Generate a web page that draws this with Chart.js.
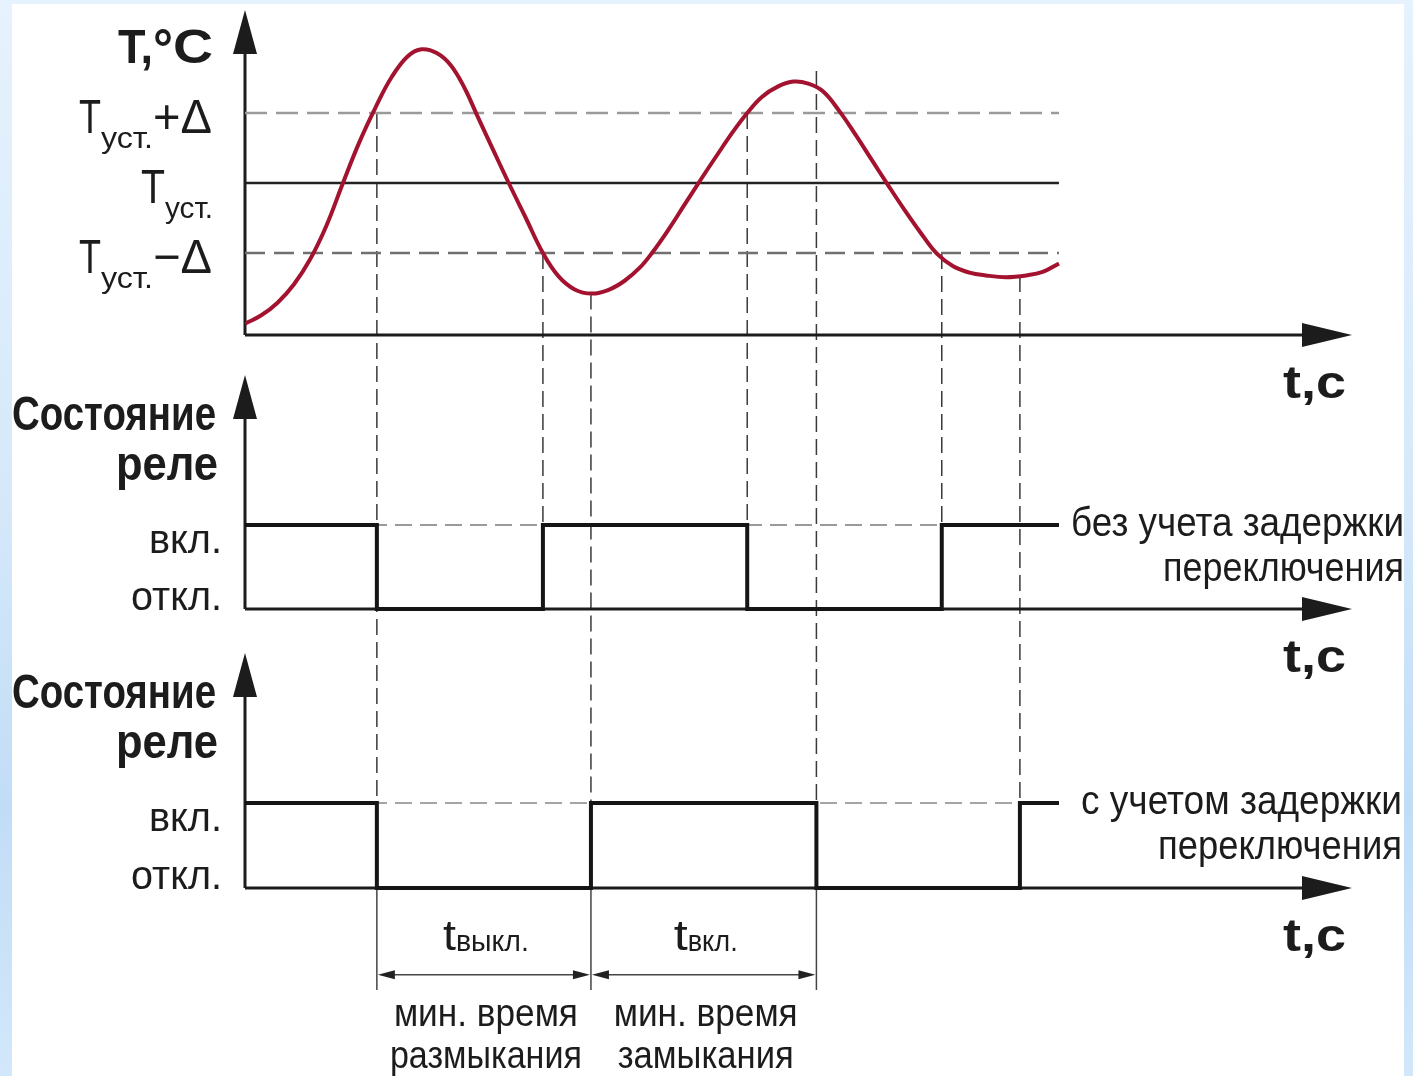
<!DOCTYPE html>
<html lang="ru">
<head>
<meta charset="utf-8">
<title>Состояние реле</title>
<script src="https://cdn.jsdelivr.net/npm/chart.js@4.4.1/dist/chart.umd.min.js"></script>
<style>
  html, body { margin: 0; width: 1413px; height: 1076px; overflow: hidden;
    background: linear-gradient(#e6f2fd, #d6e9fa 45%, #c1ddf6 75%, #d2e7fa); }
  #sheet { position: absolute; left: 12px; top: 4px; width: 1392px; height: 1072px; background: #fff; }
  #wrap { position: absolute; left: 0; top: 0; width: 1413px; height: 1076px; }
</style>
</head>
<body>
<div id="sheet"></div>
<div id="wrap"><canvas id="relayChart"></canvas></div>
<script>
// temperature curve (T in units of Δ around Tуст.)
const tempTimes  = [0, 2, 4, 6, 8, 10, 12, 14, 16, 18, 20,
  21.7, 23.5, 25.3, 27, 28.5, 30.5, 32.4, 34.5, 36.6,
  38.5, 40.5, 42.6, 44.6, 46.6, 48.5, 50,
  52, 54, 56, 58, 60, 61.7,
  63.5, 65.5, 67.4, 69.2, 71, 73,
  75, 77, 79, 81, 83, 85,
  87, 89, 91, 93.5, 96, 98, 100];
const tempValues = [-2.01, -1.89, -1.71, -1.45, -1.09, -0.61, -0.01, 0.57, 1.07, 1.51, 1.81,
  1.91, 1.86, 1.68, 1.35, 0.97, 0.47, 0, -0.5, -1.0,
  -1.33, -1.52, -1.58, -1.53, -1.40, -1.21, -1.0,
  -0.67, -0.31, 0.05, 0.40, 0.74, 1.0,
  1.23, 1.38, 1.45, 1.42, 1.31, 1.03,
  0.69, 0.33, -0.03, -0.38, -0.71, -1.01,
  -1.19, -1.28, -1.32, -1.345, -1.32, -1.27, -1.15];

// set point levels
const setLevels = [1, 0, -1];
const setLabels = [["T", "уст.", "+Δ"], ["T", "уст.", ""], ["T", "уст.", "−Δ"]];
const LINE_END = 100;

// relay without switching delay
const relay1Times  = [0, 16.2, 36.6, 61.7, 85.6, 100];
const relay1States = [1, 0, 1, 0, 1, 1];
// relay with switching delay
const relay2Times  = [0, 16.2, 42.5, 70.2, 95.2, 100];
const relay2States = [1, 0, 1, 0, 1, 1];
const relayLabels = ["вкл.", "откл."];

// vertical guide lines: time, where they start on the T curve, which relay panel they reach
const guideTimes = [16.2, 36.6, 42.5, 61.7, 70.2, 85.6, 95.2];
const guideTops  = [1, -1, -1.58, 1, 1.6, -1, -1.33];
const guideEnds  = [2, 1, 2, 1, 2, 1, 2];

// minimum times
const offSpan = [16.2, 42.5];
const onSpan  = [42.5, 70.2];

// layout: vertical bands of the three panels (px) and anchors of their values
const bands = [[10, 362], [362, 642], [642, 1076]];
function rangeFor(band, v0, p0, v1, p1) {
  const k = (v1 - v0) / (p1 - p0);
  return { min: v0 + (band[1] - p0) * k, max: v0 + (band[0] - p0) * k };
}
const rT  = rangeFor(bands[0], 0, 183, 1, 113);
const rR1 = rangeFor(bands[1], 0, 609, 1, 525);
const rR2 = rangeFor(bands[2], 0, 888, 1, 803);
const T_AXIS = -2.171;
const R1_TOP = 2.786, R2_TOP = 2.765;

const FONT = '"Liberation Sans", Arial, sans-serif';
const INK = '#1c1c1c';

// draw runs of text, each squeezed to a width: anchor 'left' | 'right' | 'center'
function drawRuns(ctx, runs, ax, anchor) {
  const total = runs.reduce((s, r) => s + r.w, 0);
  let x = anchor === 'right' ? ax - total : anchor === 'center' ? ax - total / 2 : ax;
  for (const r of runs) {
    if (r.t) {
      ctx.font = (r.b ? 'bold ' : '') + r.s + 'px ' + FONT;
      const w = ctx.measureText(r.t).width;
      ctx.save();
      ctx.translate(x, r.y);
      ctx.scale(r.w / w, 1);
      ctx.fillText(r.t, 0, 0);
      ctx.restore();
    }
    x += r.w;
  }
}

function arrowHead(ctx, x, y, dir, len, half) {
  ctx.beginPath();
  ctx.moveTo(x, y);
  if (dir === 'up') { ctx.lineTo(x - half, y + len); ctx.lineTo(x + half, y + len); }
  else if (dir === 'right') { ctx.lineTo(x - len, y - half); ctx.lineTo(x - len, y + half); }
  else { ctx.lineTo(x + len, y - half); ctx.lineTo(x + len, y + half); }
  ctx.closePath();
  ctx.fill();
}

const diagram = {
  id: 'diagram',
  beforeDatasetsDraw(chart) {
    const { ctx, scales: { x, yT, yR1, yR2 } } = chart;
    ctx.save();
    // guides
    ctx.strokeStyle = '#3a3a3a';
    ctx.lineWidth = 1.5;
    ctx.setLineDash([16, 7]);
    guideTimes.forEach((t, i) => {
      const px = x.getPixelForValue(t);
      const end = guideEnds[i] === 1 ? yR1 : yR2;
      ctx.beginPath();
      ctx.moveTo(px, yT.getPixelForValue(guideTops[i]));
      ctx.lineTo(px, end.getPixelForValue(1));
      ctx.stroke();
    });
    ctx.setLineDash([]);

    // axes
    ctx.strokeStyle = INK;
    ctx.fillStyle = INK;
    ctx.lineWidth = 3;
    const x0 = x.getPixelForValue(0), xEnd = x.getPixelForValue(x.max);
    [[yT, T_AXIS, yT.max], [yR1, 0, R1_TOP], [yR2, 0, R2_TOP]].forEach(([s, base, top]) => {
      const yb = s.getPixelForValue(base), yt = s.getPixelForValue(top);
      ctx.beginPath();
      ctx.moveTo(x0, yb); ctx.lineTo(x0, yt + 40);
      ctx.moveTo(x0, yb); ctx.lineTo(xEnd - 45, yb);
      ctx.stroke();
      arrowHead(ctx, x0, yt, 'up', 44, 12);
      arrowHead(ctx, xEnd, yb, 'right', 50, 12);
    });

    // minimum time dimensions
    ctx.strokeStyle = '#444';
    ctx.fillStyle = '#222';
    ctx.lineWidth = 1.5;
    const yl0 = yR2.getPixelForValue(0), yl1 = yR2.getPixelForValue(-1.2), ya = yR2.getPixelForValue(-1.02);
    [offSpan[0], offSpan[1], onSpan[1]].forEach(t => {
      const px = x.getPixelForValue(t);
      ctx.beginPath(); ctx.moveTo(px, yl0); ctx.lineTo(px, yl1); ctx.stroke();
    });
    [offSpan, onSpan].forEach(([a, b]) => {
      const pa = x.getPixelForValue(a) + 1, pb = x.getPixelForValue(b) - 1;
      ctx.beginPath(); ctx.moveTo(pa + 10, ya); ctx.lineTo(pb - 10, ya); ctx.stroke();
      arrowHead(ctx, pa, ya, 'left', 17, 4.5);
      arrowHead(ctx, pb, ya, 'right', 17, 4.5);
    });
    ctx.restore();
  },
  afterDatasetsDraw(chart) {
    const { ctx, scales: { x, yT, yR1, yR2 } } = chart;
    ctx.save();
    ctx.fillStyle = INK;
    ctx.textBaseline = 'alphabetic';

    // temperature axis title and set point labels
    const yTop = yT.getPixelForValue(yT.max);
    drawRuns(ctx, [
      { t: 'T,', s: 48, b: true, w: 35, y: yTop + 53 },
      { t: '°', s: 54, b: true, w: 20, y: yTop + 57 },
      { t: 'C', s: 48, b: true, w: 40, y: yTop + 53 }
    ], 213, 'right');
    const subW = [[22, 52, 59], [24, 48, 0], [22, 52, 59]];
    setLevels.forEach((v, i) => {
      const p = yT.getPixelForValue(v);
      const [a, b, c] = setLabels[i];
      drawRuns(ctx, [
        { t: a, s: 48, w: subW[i][0], y: p + 20 },
        { t: b, s: 30, w: subW[i][1], y: p + 35 },
        { t: c, s: 48, w: subW[i][2], y: p + 20 }
      ], i === 1 ? 213 : 212, 'right');
    });

    // relay panel labels
    [[yR1, 'без учета задержки', 333, 241, 1404], [yR2, 'с учетом задержки', 321, 244, 1402]].forEach(([s, note, w1, w2, rx]) => {
      const on = s.getPixelForValue(1), off = s.getPixelForValue(0);
      drawRuns(ctx, [{ t: 'Состояние', s: 48, b: true, w: 204, y: on - 95 }], 216, 'right');
      drawRuns(ctx, [{ t: 'реле', s: 48, b: true, w: 102, y: on - 45 }], 218, 'right');
      drawRuns(ctx, [{ t: relayLabels[0], s: 40, w: 73, y: on + 28 }], 222, 'right');
      drawRuns(ctx, [{ t: relayLabels[1], s: 40, w: 91, y: off + 1 }], 222, 'right');
      drawRuns(ctx, [{ t: note, s: 40, w: w1, y: on + 11 }], rx, 'right');
      drawRuns(ctx, [{ t: 'переключения', s: 40, w: w2, y: on + 56 }], rx, 'right');
    });

    // time axis titles
    [[yT, T_AXIS], [yR1, 0], [yR2, 0]].forEach(([s, v]) => {
      drawRuns(ctx, [{ t: 't,c', s: 46, b: true, w: 63, y: s.getPixelForValue(v) + 63 }], 1283, 'left');
    });

    // minimum time labels
    const base = yR2.getPixelForValue(0);
    [[offSpan, 'выкл.', 13, 73, 'размыкания', 192], [onSpan, 'вкл.', 14, 50, 'замыкания', 176]].forEach(([sp, sub, w1, w2, word, w3]) => {
      const cx = (x.getPixelForValue(sp[0]) + x.getPixelForValue(sp[1])) / 2 + 2;
      drawRuns(ctx, [
        { t: 't', s: 42, w: w1, y: base + 62 },
        { t: sub, s: 30, w: w2, y: base + 63 }
      ], cx, 'center');
      drawRuns(ctx, [{ t: 'мин. время', s: 38, w: 184, y: base + 138 }], cx, 'center');
      drawRuns(ctx, [{ t: word, s: 38, w: w3, y: base + 180 }], cx, 'center');
    });
    ctx.restore();
  }
};

const pts = (xs, ys) => xs.map((t, i) => ({ x: t, y: ys[i] }));
const flat = (v) => [{ x: 0, y: v }, { x: LINE_END, y: v }];

new Chart(document.getElementById('relayChart'), {
  type: 'line',
  data: {
    datasets: [
      { label: 'T', data: pts(tempTimes, tempValues), yAxisID: 'yT', borderColor: '#a3132f',
        borderWidth: 4, pointRadius: 0, tension: 0.4, order: 0 },
      { label: 'Tуст.+Δ', data: flat(setLevels[0]), yAxisID: 'yT', borderColor: '#9a9a9a',
        borderWidth: 2.5, borderDash: [22, 9], pointRadius: 0, order: 5 },
      { label: 'Tуст.', data: flat(setLevels[1]), yAxisID: 'yT', borderColor: '#222',
        borderWidth: 2.5, pointRadius: 0, order: 5 },
      { label: 'Tуст.−Δ', data: flat(setLevels[2]), yAxisID: 'yT', borderColor: '#707070',
        borderWidth: 2.5, borderDash: [20, 9], pointRadius: 0, order: 5 },
      { label: 'без учета задержки', data: pts(relay1Times, relay1States), yAxisID: 'yR1', stepped: 'before',
        borderColor: '#151515', borderWidth: 4, pointRadius: 0, order: 1 },
      { label: 'с учетом задержки', data: pts(relay2Times, relay2States), yAxisID: 'yR2', stepped: 'before',
        borderColor: '#151515', borderWidth: 4, pointRadius: 0, order: 1 },
      { label: 'вкл. 1', data: flat(1), yAxisID: 'yR1', borderColor: '#9a9a9a',
        borderWidth: 2, borderDash: [17, 8], pointRadius: 0, order: 6 },
      { label: 'вкл. 2', data: flat(1), yAxisID: 'yR2', borderColor: '#a5a5a5',
        borderWidth: 2, borderDash: [17, 8], pointRadius: 0, order: 6 }
    ]
  },
  options: {
    responsive: true,
    maintainAspectRatio: false,
    animation: false,
    events: [],
    layout: { padding: { left: 245, right: 61, top: 10, bottom: 0 } },
    plugins: { legend: { display: false }, tooltip: { enabled: false } },
    scales: {
      x: { type: 'linear', min: 0, max: 136, display: false },
      yT:  { type: 'linear', position: 'left', stack: 'panels', weight: 3, stackWeight: bands[0][1] - bands[0][0],
             min: rT.min, max: rT.max, display: false },
      yR1: { type: 'linear', position: 'left', stack: 'panels', weight: 2, stackWeight: bands[1][1] - bands[1][0],
             min: rR1.min, max: rR1.max, display: false },
      yR2: { type: 'linear', position: 'left', stack: 'panels', weight: 1, stackWeight: bands[2][1] - bands[2][0],
             min: rR2.min, max: rR2.max, display: false }
    }
  },
  plugins: [diagram]
});
</script>
</body>
</html>
